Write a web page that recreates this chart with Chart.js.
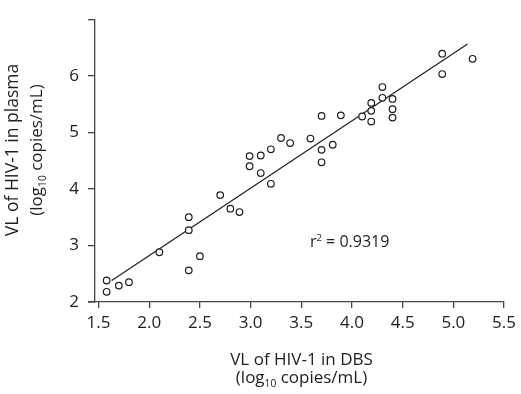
<!DOCTYPE html>
<html>
<head>
<meta charset="utf-8">
<script src="https://cdn.jsdelivr.net/npm/chart.js@4.4.1/dist/chart.umd.min.js"></script>
<style>
  html, body { margin: 0; padding: 0; background: #fff; }
  #wrap { width: 521px; height: 394px; }
</style>
</head>
<body>
<div id="wrap"><canvas id="scatter"></canvas></div>
<script>
// DBS (x) vs plasma (y) viral load, log10 copies/mL
const dbsValues = [1.58, 1.58, 1.70, 1.80, 2.10, 2.39, 2.39, 2.39, 2.50, 2.70, 2.80, 2.89,
  2.99, 2.99, 3.10, 3.10, 3.20, 3.20, 3.30, 3.39, 3.59, 3.70, 3.70, 3.70, 3.81, 3.89,
  4.10, 4.19, 4.19, 4.19, 4.30, 4.30, 4.40, 4.40, 4.40, 4.89, 4.89, 5.19];
const plasmaValues = [2.38, 2.18, 2.29, 2.35, 2.88, 3.50, 3.27, 2.56, 2.81, 3.89, 3.65, 3.59,
  4.58, 4.40, 4.59, 4.28, 4.70, 4.09, 4.90, 4.81, 4.89, 5.29, 4.69, 4.47, 4.78, 5.30,
  5.28, 5.52, 5.38, 5.19, 5.80, 5.61, 5.59, 5.41, 5.26, 6.39, 6.03, 6.30];

// regression line end points
const fitX = [1.63, 5.14];
const fitY = [2.38, 6.56];
const r2Label = "0.9319";

const xTicks = [1.5, 2.0, 2.5, 3.0, 3.5, 4.0, 4.5, 5.0, 5.5];
const yTicks = [2, 3, 4, 5, 6, 7];

const ink = "#1e1e1e";
const fontName = "'Open Sans', 'Noto Sans', sans-serif";

// draws text pieces with sub/superscripts, returns width
function drawRich(ctx, parts, x, y, size, measureOnly) {
  let cx = x;
  parts.forEach(function (p) {
    const s = p.sub || p.sup ? size * 0.6 : size;
    ctx.font = s + "px " + fontName;
    const w = ctx.measureText(p.t).width;
    if (!measureOnly) {
      let dy = 0;
      if (p.sub) dy = size * 0.22;
      if (p.sup) dy = -size * 0.35;
      ctx.fillText(p.t, cx, y + dy);
    }
    cx += w;
  });
  return cx - x;
}

function drawCentered(ctx, parts, cx, cy, size) {
  const w = drawRich(ctx, parts, 0, 0, size, true);
  drawRich(ctx, parts, cx - w / 2, cy, size, false);
}

const labelsPlugin = {
  id: "labels",
  afterDraw(chart) {
    const ctx = chart.ctx;
    const xs = chart.scales.x;
    const ys = chart.scales.y;
    const area = chart.chartArea;
    ctx.save();

    // x axis line runs a little past the y axis
    ctx.strokeStyle = "#444";
    ctx.lineWidth = 1.3;
    ctx.beginPath();
    ctx.moveTo(area.left - 7, area.bottom);
    ctx.lineTo(area.left, area.bottom);
    ctx.stroke();

    ctx.fillStyle = ink;
    ctx.textBaseline = "alphabetic";
    ctx.textAlign = "left";

    // x title
    const xc = (area.left + area.right) / 2 + 2;
    drawCentered(ctx, [{ t: "VL of HIV-1 in DBS" }], xc, 365, 17);
    drawCentered(ctx, [{ t: "(log" }, { t: "10", sub: true }, { t: " copies/mL)" }], xc, 383, 17);

    // y title
    const yc = 150;
    ctx.save();
    ctx.translate(18, yc);
    ctx.rotate(-Math.PI / 2);
    drawCentered(ctx, [{ t: "VL of HIV-1 in plasma" }], 0, 0, 17.5);
    ctx.restore();
    ctx.save();
    ctx.translate(42, yc);
    ctx.rotate(-Math.PI / 2);
    drawCentered(ctx, [{ t: "(log" }, { t: "10", sub: true }, { t: " copies/mL)" }], 0, 0, 17);
    ctx.restore();

    // r squared
    drawRich(ctx, [{ t: "r" }, { t: "2", sup: true }, { t: " = " + r2Label }],
      xs.getPixelForValue(3.585), 247, 16, false);
    ctx.restore();
  }
};

const scatterData = dbsValues.map(function (v, i) {
  return { x: v, y: plasmaValues[i] };
});

new Chart(document.getElementById("scatter"), {
  type: "scatter",
  data: {
    datasets: [
      {
        data: scatterData,
        pointStyle: "circle",
        radius: 3.3,
        borderWidth: 1.2,
        borderColor: ink,
        backgroundColor: "#fff",
        order: 1
      },
      {
        type: "line",
        data: fitX.map(function (v, i) { return { x: v, y: fitY[i] }; }),
        borderColor: ink,
        borderWidth: 1.2,
        pointRadius: 0,
        fill: false,
        order: 2
      }
    ]
  },
  options: {
    responsive: true,
    maintainAspectRatio: false,
    animation: false,
    layout: { padding: { top: 10, right: 14, left: 0, bottom: 0 } },
    plugins: {
      legend: { display: false },
      tooltip: { enabled: false }
    },
    scales: {
      x: {
        type: "linear",
        min: 1.465,
        max: 5.5,
        afterBuildTicks(scale) {
          scale.ticks = xTicks.map(function (v) { return { value: v }; });
        },
        afterFit(scale) { scale.height = 92; },
        grid: {
          drawOnChartArea: false,
          drawTicks: true,
          tickLength: 6,
          color: "#444",
          lineWidth: 1.3
        },
        border: { color: "#444", width: 1.3 },
        ticks: {
          color: ink,
          padding: 5,
          maxRotation: 0,
          font: { family: fontName, size: 17 },
          callback: function (v) { return Number(v).toFixed(1); }
        }
      },
      y: {
        type: "linear",
        min: 2,
        max: 7,
        afterBuildTicks(scale) {
          scale.ticks = yTicks.map(function (v) { return { value: v }; });
        },
        afterFit(scale) { scale.width = 95; },
        grid: {
          drawOnChartArea: false,
          drawTicks: true,
          tickLength: 7,
          color: "#444",
          lineWidth: 1.3
        },
        border: { color: "#444", width: 1.3 },
        ticks: {
          color: ink,
          padding: 9,
          font: { family: fontName, size: 17 },
          callback: function (v) { return v === 7 ? "" : String(v); }
        }
      }
    }
  },
  plugins: [labelsPlugin]
});
</script>
</body>
</html>
